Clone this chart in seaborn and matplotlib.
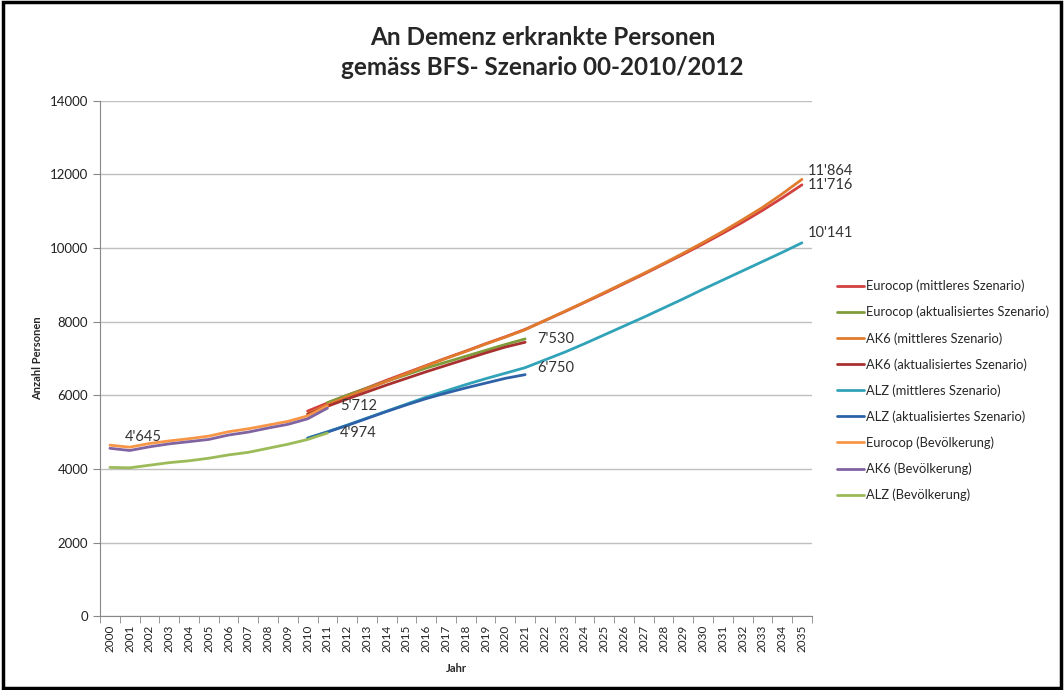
import pandas as pd
import seaborn as sns
import matplotlib.pyplot as plt
from matplotlib.patches import Rectangle

# DATA
years_bev = list(range(2000, 2012))
years_mitt = list(range(2010, 2036))
years_akt_euro = list(range(2011, 2022))
years_akt = list(range(2010, 2022))

eurocop_mitt = [5570, 5790, 6000, 6200, 6410, 6610, 6810, 7010, 7200, 7400, 7590, 7790, 8030,
                8270, 8520, 8770, 9030, 9290, 9560, 9830, 10110, 10400, 10700, 11020, 11360, 11716]
eurocop_akt = [5800, 6000, 6190, 6380, 6560, 6740, 6900, 7060, 7220, 7380, 7530]
ak6_mitt = [5500, 5740, 5960, 6170, 6380, 6590, 6800, 7000, 7190, 7390, 7580, 7780, 8030,
            8280, 8530, 8790, 9050, 9310, 9580, 9860, 10150, 10450, 10770, 11100, 11470, 11864]
ak6_akt = [5480, 5700, 5900, 6090, 6280, 6460, 6640, 6810, 6980, 7150, 7310, 7440]
alz_mitt = [4840, 5010, 5190, 5380, 5570, 5760, 5950, 6120, 6290, 6450, 6600, 6750, 6960,
            7170, 7400, 7640, 7880, 8120, 8370, 8620, 8880, 9130, 9380, 9630, 9880, 10141]
alz_akt = [4830, 5000, 5180, 5370, 5560, 5740, 5910, 6060, 6200, 6330, 6460, 6560]
eurocop_bev = [4645, 4590, 4690, 4760, 4820, 4890, 5010, 5090, 5190, 5290, 5440, 5712]
ak6_bev = [4560, 4500, 4600, 4680, 4740, 4800, 4920, 5000, 5110, 5210, 5360, 5650]
alz_bev = [4040, 4030, 4100, 4170, 4220, 4290, 4380, 4450, 4560, 4670, 4800, 4974]

series_names = [
    "Eurocop (mittleres Szenario)",
    "Eurocop (aktualisiertes Szenario)",
    "AK6 (mittleres Szenario)",
    "AK6 (aktualisiertes Szenario)",
    "ALZ (mittleres Szenario)",
    "ALZ (aktualisiertes Szenario)",
    "Eurocop (Bevölkerung)",
    "AK6 (Bevölkerung)",
    "ALZ (Bevölkerung)",
]
series_colors = ["#D2413F", "#7E9D3A", "#E07B2E", "#A8302F", "#31A3B8",
                 "#2E62A8", "#F79646", "#8064A2", "#9BBB59"]

# build long table
parts = [
    (series_names[0], years_mitt, eurocop_mitt),
    (series_names[1], years_akt_euro, eurocop_akt),
    (series_names[2], years_mitt, ak6_mitt),
    (series_names[3], years_akt, ak6_akt),
    (series_names[4], years_mitt, alz_mitt),
    (series_names[5], years_akt, alz_akt),
    (series_names[6], years_bev, eurocop_bev),
    (series_names[7], years_bev, ak6_bev),
    (series_names[8], years_bev, alz_bev),
]
df = pd.concat([pd.DataFrame({"Jahr": x, "Anzahl": y, "Serie": n}) for n, x, y in parts])

# PLOT
sns.set_style("white")
plt.rcParams["font.family"] = ["Lato", "DejaVu Sans"]

fig = plt.figure(figsize=(10.64, 6.9), dpi=100)
ax = fig.add_axes([0.094, 0.107, 0.669, 0.747])

sns.lineplot(data=df, x="Jahr", y="Anzahl", hue="Serie", hue_order=series_names,
             palette=dict(zip(series_names, series_colors)), linewidth=2.0,
             estimator=None, errorbar=None, ax=ax)

ax.set_xlim(1999.5, 2035.5)
ax.set_ylim(0, 14000)
ax.set_yticks(range(0, 14001, 2000))
ax.set_xticks(range(2000, 2036))
ax.set_xticklabels([str(y) for y in range(2000, 2036)], rotation=90, fontsize=8.5)
ax.set_xticks([y + 0.5 for y in range(1999, 2036)], minor=True)
ax.tick_params(axis="x", which="major", length=0, pad=6, colors="#222222")
ax.tick_params(axis="x", which="minor", length=5, color="#888888", direction="out", bottom=True)
ax.tick_params(axis="y", length=5, color="#888888", direction="out", left=True,
               labelsize=9.5, colors="#222222")
ax.yaxis.grid(True, color="#BFBFBF", linewidth=1)
for s in ["top", "right"]:
    ax.spines[s].set_visible(False)
for s in ["left", "bottom"]:
    ax.spines[s].set_color("#888888")

ax.set_xlabel("Jahr", fontsize=8, fontweight="bold", labelpad=8)
ax.set_ylabel("Anzahl Personen", fontsize=8, fontweight="bold", labelpad=5)

fig.text(0.51, 0.924, "An Demenz erkrankte Personen\ngemäss BFS- Szenario 00-2010/2012",
         ha="center", va="center", fontsize=17.5, fontweight="bold", linespacing=1.35)

# data labels
lbl = dict(textcoords="offset points", fontsize=10.5, color="#333333")
ax.annotate("4'645", xy=(2000, eurocop_bev[0]), xytext=(24, 6), ha="center", va="center", **lbl)
ax.annotate("5'712", xy=(2011, eurocop_bev[-1]), xytext=(9, 0), ha="left", va="center", **lbl)
ax.annotate("4'974", xy=(2011, alz_bev[-1]), xytext=(9, 0), ha="left", va="center", **lbl)
ax.annotate("7'530", xy=(2021, eurocop_akt[-1]), xytext=(9, 0), ha="left", va="center", **lbl)
ax.annotate("6'750", xy=(2021, alz_mitt[11]), xytext=(9, 0), ha="left", va="center", **lbl)
ax.annotate("11'864", xy=(2035, ak6_mitt[-1]), xytext=(4, 6), ha="left", va="center", **lbl)
ax.annotate("11'716", xy=(2035, eurocop_mitt[-1]), xytext=(4, 0), ha="left", va="center", **lbl)
ax.annotate("10'141", xy=(2035, alz_mitt[-1]), xytext=(4, 7), ha="left", va="center", **lbl)

handles, labels = ax.get_legend_handles_labels()
ax.legend(handles, labels, loc="upper left", bbox_to_anchor=(0.782, 0.602),
          bbox_transform=fig.transFigure, frameon=False, fontsize=9.3,
          handlelength=2.1, handletextpad=0.1, labelspacing=1.05, borderaxespad=0)

# outer frame
fig.patches.append(Rectangle((0.003, 0.003), 0.994, 0.994, transform=fig.transFigure,
                             fill=False, edgecolor="black", linewidth=2.5))

plt.savefig("out.png", dpi=100)
